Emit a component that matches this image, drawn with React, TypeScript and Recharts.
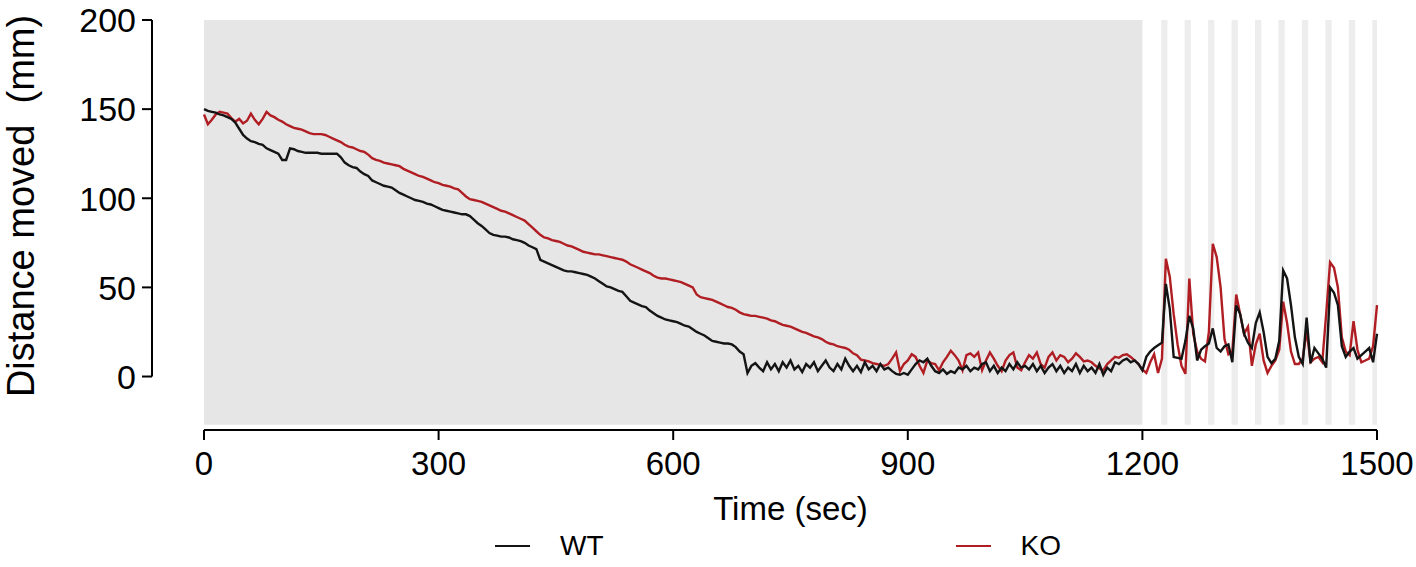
import React from 'react';
import {
	LineChart, Line, XAxis, YAxis, ReferenceArea, ReferenceLine, Legend,
} from 'recharts';

const FONT = 'Arial, "Liberation Sans", Helvetica, sans-serif';

// one sample every 5 s, 0 .. 1500 s
const STEP_SEC = 5;

const WT = [
	150, 149, 148.5, 148, 147, 146.5, 145.5, 144.5, 142.5, 139, 135.5, 133.5, 132, 131.5, 130.5, 130, 128, 127, 126, 125,
	121.5, 121.5, 128, 127.5, 126.5, 126, 125.5, 125.5, 125.5, 125.5, 125, 125, 125, 125, 125, 123, 120, 118.5, 117.5, 117,
	115, 113.5, 112.5, 110, 109, 108, 107, 106.5, 106, 104.5, 103, 102, 101, 100, 99, 98.5, 98, 97, 96.5, 95.5,
	94.5, 93.5, 93, 92.5, 92, 91.5, 91, 91, 90, 88, 86, 84.5, 82.5, 80.5, 79.5, 79, 78.5, 78.5, 78, 77,
	76.5, 76, 75, 73.5, 72.5, 71.5, 65.5, 64.5, 63.5, 62.5, 61.5, 60.5, 59.5, 59, 59, 58.5, 58, 57.5, 57, 56,
	55, 53.5, 52, 50.5, 50, 49, 48, 47.5, 45, 42.5, 41.5, 40.5, 39.5, 39, 37, 35.5, 34, 33, 32, 31.5,
	31, 30.5, 29.5, 28.5, 28, 26.5, 25, 24, 23, 21.5, 20, 19.5, 19, 18.5, 18.5, 18, 16.5, 14, 12.5, 2,
	6, 7.5, 5, 3, 8, 4, 7, 3, 8, 5, 9, 4, 6, 2.5, 7, 5, 8, 3, 6, 9,
	5, 3, 7, 4, 10, 6, 3, 6, 2.5, 8, 4, 6, 3, 7, 4, 5, 3, 1.5, 1, 2,
	1, 4, 7, 9, 8, 10, 6, 3, 2, 4, 1.5, 3, 2, 5, 4, 6, 3, 5, 4, 7,
	8, 3, 6, 2, 5, 3, 7, 4, 8, 5, 6, 4, 7, 3, 6, 2, 5, 7, 3, 6,
	2, 5, 3, 7, 2, 6, 3, 5, 2, 7, 1, 5, 3, 8, 7, 9, 10, 8, 9, 7,
	3.5, 11, 14, 16, 17.5, 19, 52, 38, 11, 10.5, 10, 20, 34, 27, 9, 15, 17, 18.5, 27, 16,
	14, 17, 18, 8, 40, 35, 24, 19, 16, 30, 36, 25, 11, 7.5, 10, 20, 59.5, 55, 40, 22,
	11, 7, 33, 7.5, 16, 13, 10, 5, 50, 47, 40, 17, 11, 14, 16, 10, 12, 14, 16, 8,
	24,
];

const KO = [
	147, 141.5, 144, 147, 148.5, 148, 147.5, 145, 143, 144.5, 142, 143.5, 147.5, 144, 141.5, 144.5, 148.5, 146.5, 145.5, 144,
	143, 141.5, 140.5, 139.5, 139, 138.5, 137.5, 136.5, 136, 136, 136, 135.5, 134.5, 133.5, 132.5, 131.5, 130, 129, 128.5, 127.5,
	126.5, 126, 124.5, 122.5, 121.5, 121, 120, 119.5, 119, 118.5, 118, 116.5, 115.5, 114.5, 113.5, 112.5, 112, 111, 110, 109,
	108.5, 107.5, 107, 106.5, 105.5, 105, 103, 101, 99.5, 99, 98.5, 98, 97, 96, 95, 94, 93, 92.5, 91.5, 90.5,
	89.5, 88.5, 87.5, 85.5, 83.5, 81.5, 79.5, 78, 77.5, 76.5, 76, 75.5, 74.5, 73.5, 73, 72, 71, 70, 69.5, 69,
	68.5, 68.5, 68, 67.5, 67, 66.5, 66, 65.5, 64.5, 63, 62, 61, 60, 59, 58, 56.5, 55.5, 55, 55, 54.5,
	54, 53.5, 53, 52, 51, 50, 46, 44.5, 44, 43.5, 43, 42, 41, 40, 39, 38.5, 37.5, 36, 35, 34.5,
	34, 34, 33.5, 33, 32.5, 31.5, 31, 30, 29, 28.5, 28, 27, 26, 25, 24.5, 23.5, 22.5, 22, 21, 19.5,
	18.5, 18, 17, 16.5, 16, 15, 13, 12, 9.5, 9, 8.5, 7.5, 7, 6.5, 6, 7, 10, 13.5, 3, 7,
	9, 12.5, 11, 6, 2, 9, 7.5, 7, 3.5, 8, 11, 14.5, 12, 9, 3.5, 12, 13, 11, 13.5, 3.5,
	9, 13.5, 10, 6, 3, 9, 12, 13.5, 5, 3.5, 8, 12, 10, 13.5, 7, 5, 11, 13.5, 9, 12,
	11, 8, 10, 13, 11, 8.5, 9, 8, 6, 4.5, 3.5, 7, 9, 11, 10.5, 12, 12.5, 11, 9, 7,
	4, 2, 8, 12.5, 2, 10, 66, 56, 35, 18, 6, 1.5, 55, 24, 14, 10, 8.5, 25, 74.5, 67,
	50, 21, 12.5, 14, 46, 35, 24, 28, 6, 18, 24, 9, 2, 6, 9, 15, 42, 30, 14, 7,
	7, 10, 26, 8, 10, 11, 8, 35, 64, 61, 50, 22, 14, 12, 31, 15, 8, 9, 10, 17,
	40,
];

const X_TICKS = [0, 300, 600, 900, 1200, 1500];
const Y_TICKS = [0, 50, 100, 150, 200];
const LEGEND_ORDER = ['WT', 'KO'];

const HABITUATION_END = 1200;
const TONE_STARTS = [1224, 1254, 1284, 1314, 1344, 1374, 1404, 1434, 1464, 1494];
const TONE_SEC = 8;

const WT_COLOR = '#141414';
const KO_COLOR = '#b01e23';

const data = WT.map((wt, i) => ({ t: i * STEP_SEC, wt, ko: KO[i] }));

// y axis is drawn detached from the plot, Prism style
const AXIS_GAP_SEC = -66.5;

const YTick = (props: any) => {
	const { x, y, payload } = props;
	return (
		<g>
			<line x1={x - 62} x2={x - 52} y1={y} y2={y} stroke="#000" strokeWidth={2} />
			<text x={x - 68} y={y} dy="0.36em" textAnchor="end" fontSize={34} fontFamily={FONT} fill="#000">
				{payload.value}
			</text>
		</g>
	);
};

const YLabel = () => (
	<text x={34} y={206} transform="rotate(-90 34 206)" textAnchor="middle" fontSize={38} fontFamily={FONT} fill="#000">
		Distance moved{'\u00A0'} (mm)
	</text>
);

const renderLegend = (props: any) => {
	const items = [...(props.payload || [])].sort(
		(a: any, b: any) => LEGEND_ORDER.indexOf(a.value) - LEGEND_ORDER.indexOf(b.value),
	);
	return (
		<div style={{ display: 'flex', paddingLeft: 495, fontFamily: FONT, fontSize: 28, color: '#000' }}>
			{items.map((item: any) => (
				<div key={item.value} style={{ width: 475, display: 'flex', alignItems: 'center' }}>
					<span style={{ display: 'inline-block', width: 35, height: 2, background: item.color, marginRight: 30 }} />
					<span>{item.value}</span>
				</div>
			))}
		</div>
	);
};

export default function App() {
	return (
		<div style={{ position: 'absolute', left: 0, top: 0 }}>
			<LineChart width={1416} height={567} data={data} margin={{ top: 20, right: 39, bottom: 37, left: 0 }}>
				<ReferenceArea x1={0} x2={HABITUATION_END} y1={-27} y2={200} fill="#e6e6e6" fillOpacity={1} stroke="none" />
				{TONE_STARTS.map((s) => (
					<ReferenceArea key={s} x1={s} x2={Math.min(s + TONE_SEC, 1500)} y1={-27} y2={200}
						fill="#ededed" fillOpacity={1} stroke="none" />
				))}
				<XAxis dataKey="t" type="number" domain={[0, 1500]} ticks={X_TICKS} interval={0}
					height={100} tickSize={10} tickMargin={12}
					axisLine={{ stroke: '#000', strokeWidth: 2 }} tickLine={{ stroke: '#000', strokeWidth: 2 }}
					tick={{ fontSize: 33, fill: '#000', fontFamily: FONT }}
					label={{ value: 'Time (sec)', position: 'insideBottom', offset: 10, fontSize: 33, fill: '#000', fontFamily: FONT }} />
				<YAxis type="number" domain={[-30, 200]} ticks={Y_TICKS} interval={0} width={204}
					axisLine={false} tickLine={false} tickSize={0} tickMargin={0}
					tick={(p: any) => <YTick {...p} />} label={<YLabel />} />
				<ReferenceLine ifOverflow="visible" stroke="#000" strokeWidth={2}
					segment={[{ x: AXIS_GAP_SEC, y: 0 }, { x: AXIS_GAP_SEC, y: 200 }]} />
				<Line type="linear" dataKey="ko" name="KO" stroke={KO_COLOR} strokeWidth={2.4} dot={false} isAnimationActive={false} />
				<Line type="linear" dataKey="wt" name="WT" stroke={WT_COLOR} strokeWidth={2.4} dot={false} isAnimationActive={false} />
				<Legend verticalAlign="middle" align="center" layout="horizontal"
					wrapperStyle={{ top: 530, left: 0, width: 1416 }} content={renderLegend} />
			</LineChart>
		</div>
	);
}
